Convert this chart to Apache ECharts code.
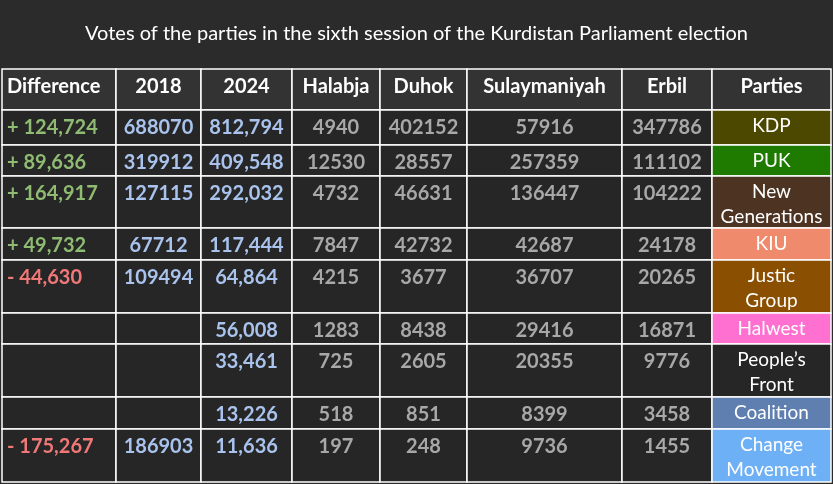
<!DOCTYPE html>
<html><head><meta charset="utf-8">
<script src="https://cdn.jsdelivr.net/npm/echarts@6/dist/echarts.min.js"></script>
<style>html,body{margin:0;background:#2b2b2b}#c{width:833px;height:484px}</style>
</head><body><div id="c"></div>
<script>
const title = 'Votes of the parties in the sixth session of the Kurdistan Parliament election';
const headers = ['Difference','2018','2024','Halabja','Duhok','Sulaymaniyah','Erbil','Parties'];
const parties = ['KDP','PUK','New\nGenerations','KIU','Justic\nGroup','Halwest','People’s\nFront','Coalition','Change\nMovement'];
const difference = ['+ 124,724','+ 89,636','+ 164,917','+ 49,732','- 44,630','','','','- 175,267'];
const v2018 = ['688070','319912','127115','67712','109494','','','','186903'];
const v2024 = ['812,794','409,548','292,032','117,444','64,864','56,008','33,461','13,226','11,636'];
const halabja = [4940,12530,4732,7847,4215,1283,725,518,197];
const duhok = [402152,28557,46631,42732,3677,8438,2605,851,248];
const sulaymaniyah = [57916,257359,136447,42687,36707,29416,20355,8399,9736];
const erbil = [347786,111102,104222,24178,20265,16871,9776,3458,1455];
const partyColors = ['#4d4800','#1f7a00','#4d3322','#f08a6c','#8a4f00','#ff70d0','#262626','#5f7fb0','#6eb0f5'];

// layout
const colX = [2,116,201,292,380,467,622,712,831];
const rowY = [69,110,145,176,228,260,313,344,397,429,482];

const cols = [difference, v2018, v2024, halabja, duhok, sulaymaniyah, erbil, parties];
const data = [];
headers.forEach((h,c)=>data.push([c,0,h]));
for (let r=0;r<parties.length;r++) for (let c=0;c<8;c++) data.push([c,r+1,String(cols[c][r])]);

function txtColor(c,r,t){
  if(r===0) return '#fff';
  if(c===0) return t.startsWith('+')?'#8fbc72':'#f07878';
  if(c===1||c===2) return '#a9c3ed';
  if(c===7) return '#fff';
  return '#a8a8a8';
}
const chart = echarts.init(document.getElementById('c'));
chart.setOption({
  backgroundColor:'#2b2b2b',
  title:{text:title,left:'center',top:19,textStyle:{color:'#fff',fontFamily:'Lato',fontWeight:'normal',fontSize:20}},
  grid:{left:0,right:0,top:0,bottom:0},
  xAxis:{type:'value',min:0,max:833,show:false},
  yAxis:{type:'value',min:0,max:484,inverse:true,show:false},
  series:[{type:'custom',data,clip:false,encode:{x:0,y:1},
    renderItem(params,api){
      const c=api.value(0), r=api.value(1), t=data[params.dataIndex][2];
      const p0=api.coord([colX[c],rowY[r]]), p1=api.coord([colX[c+1],rowY[r+1]]);
      const fill = r===0 ? '#333333' : (c===7 ? partyColors[r-1] : '#262626');
      const x = c===0 ? p0[0]+5 : (p0[0]+p1[0])/2;
      const party = c===7 && r>0;
      const y = r===0 ? p0[1]+18 : p0[1]+(party?3:6);
      return {type:'group',children:[
        {type:'rect',shape:{x:p0[0],y:p0[1],width:p1[0]-p0[0],height:p1[1]-p0[1]},style:{fill,stroke:'#fff',lineWidth:1.5}},
        {type:'text',style:{text:t,x,y,align:c===0?'left':'center',verticalAlign:r===0?'middle':'top',fill:txtColor(c,r,t),
          font:party?'19px Lato':'bold 20px Lato',lineHeight:party?25:24}}
      ]};
    }}]
});
</script></body></html>
